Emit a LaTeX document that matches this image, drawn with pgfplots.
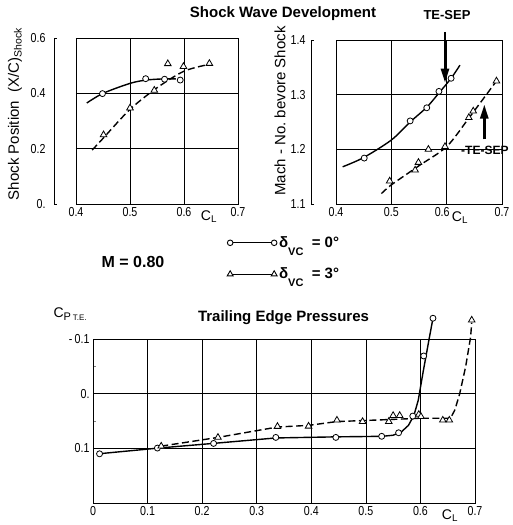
\documentclass[border=0pt]{standalone}
\usepackage{fontspec}
\setmainfont{Liberation Sans}
\newfontfamily\narrowfont[FakeStretch=0.82]{Liberation Sans}
\usepackage{pgfplots}
\pgfplotsset{compat=1.18}
\usetikzlibrary{arrows.meta}

\newcommand\fs[1]{\fontsize{#1}{#1}\selectfont}

\pgfplotsset{
  chart/.style={scale only axis, anchor=south west, grid=major,
    grid style={black, line width=0.5pt},
    axis line style={line width=0.8pt},
    major tick length=0pt, tick pos=left,
    tick label style={font=\narrowfont\fs{13}},
    clip=false},
  circ/.style={black, only marks, mark=*, mark size=3pt,
    mark options={fill=white, draw=black, line width=0.8pt}},
  tri/.style={black, only marks, mark=triangle*, mark size=3.8pt,
    mark options={fill=white, draw=black, line width=0.8pt}},
  fitsolid/.style={black, line width=1.4pt, smooth, no marks},
  fitdash/.style={black, line width=1.4pt, dash pattern=on 7pt off 3.5pt, smooth, no marks},
}

\begin{document}
\begin{tikzpicture}
\useasboundingbox (0pt,0pt) rectangle (513pt,-525pt);

% shock position
\begin{axis}[chart, at={(76pt,-204pt)}, width=162pt, height=166pt,
  xmin=0.4, xmax=0.7, ymin=0, ymax=0.6,
  xtick={0.4,0.5,0.6,0.7}, xticklabels={0.4,0.5,0.6,0.7},
  ytick={0,0.2,0.4,0.6}, yticklabels={0.,0.2,0.4,0.6},
  yticklabel style={xshift=-27pt}]
\addplot[fitsolid] coordinates {(0.42,0.365) (0.45,0.400) (0.50,0.436) (0.53,0.448) (0.56,0.452) (0.585,0.452)};
\addplot[fitdash] coordinates {(0.43,0.195) (0.45,0.237) (0.50,0.342) (0.55,0.420) (0.60,0.480) (0.647,0.505)};
\addplot[circ] coordinates {(0.449,0.399) (0.529,0.453) (0.564,0.451) (0.593,0.448)};
\addplot[tri] coordinates {(0.451,0.250) (0.500,0.347) (0.545,0.411) (0.570,0.507) (0.599,0.497) (0.647,0.508)};
\draw[line width=0.8pt] ([xshift=-19pt]rel axis cs:0,0) -- ([xshift=-22pt]rel axis cs:0,0) -- ([xshift=-22pt]rel axis cs:0,1) -- ([xshift=-19pt]rel axis cs:0,1);
\end{axis}

% mach number
\begin{axis}[chart, at={(336pt,-204pt)}, width=166pt, height=164pt,
  xmin=0.4, xmax=0.7, ymin=1.1, ymax=1.4,
  xtick={0.4,0.5,0.6,0.7}, xticklabels={0.4,0.5,0.6\kern9pt,0.7},
  ytick={1.1,1.2,1.3,1.4}, yticklabels={1.1,1.2,1.3,1.4},
  yticklabel style={xshift=-27pt}]
\addplot[fitsolid] coordinates {(0.412,1.168) (0.45,1.185) (0.50,1.217) (0.534,1.250) (0.564,1.277) (0.586,1.303) (0.608,1.330) (0.624,1.354)};
\addplot[fitdash] coordinates {(0.482,1.119) (0.50,1.135) (0.55,1.170) (0.60,1.205) (0.64,1.257) (0.69,1.325)};
\addplot[circ] coordinates {(0.451,1.184) (0.534,1.252) (0.564,1.276) (0.586,1.306) (0.608,1.330)};
\addplot[tri] coordinates {(0.497,1.142) (0.543,1.162) (0.549,1.176) (0.567,1.200) (0.597,1.205) (0.640,1.258) (0.648,1.270) (0.690,1.325)};
\draw[line width=0.8pt] ([xshift=-22pt]rel axis cs:0,0) -- ([xshift=-25pt]rel axis cs:0,0) -- ([xshift=-25pt]rel axis cs:0,1) -- ([xshift=-22pt]rel axis cs:0,1);
\draw[line width=2.6pt, -{Triangle[length=14pt, width=8pt]}] (axis cs:0.597,1.415) -- (axis cs:0.597,1.322);
\draw[line width=2.6pt, -{Triangle[length=14pt, width=8pt]}] (axis cs:0.668,1.218) -- (axis cs:0.668,1.282);
\end{axis}

% trailing edge pressures
\begin{axis}[chart, at={(93pt,-503pt)}, width=382pt, height=164pt,
  xmin=0, xmax=0.7, ymin=-0.1, ymax=0.2, y dir=reverse,
  xtick={0,0.1,0.2,0.3,0.4,0.5,0.6,0.7}, xticklabels={0,0.1,0.2,0.3,0.4,0.5,0.6,0.7},
  ytick={-0.1,0,0.1}, yticklabels={-\,0.1,0.,0.1},
  minor ytick={-0.05,0.05}, minor tick length=3pt,
  legend image code/.code={\draw[#1, line width=0.9pt, mark repeat=2, mark phase=1] plot coordinates {(0pt,0pt) (22pt,0pt) (44pt,0pt)};},
  legend style={at={(axis description cs:0.343,1.65)}, anchor=north west,
    draw=none, fill=none, row sep=15pt, font=\bfseries\fs{15},
    cells={anchor=west}}]
\addlegendimage{black, solid, mark=*, mark size=2.8pt, mark options={fill=white}}
\addlegendentry{δ\raisebox{-1ex}{\fs{11}VC}\ \ = 0°}
\addlegendimage{black, solid, mark=triangle*, mark size=3.4pt, mark options={fill=white}}
\addlegendentry{δ\raisebox{-1ex}{\fs{11}VC}\ \ = 3°}
\addplot[black, line width=1.6pt, forget plot] coordinates {(0,0) (0.7,0)};
\addplot[black, line width=1.4pt, forget plot] coordinates {(0.01,0.110) (0.12,0.0995) (0.22,0.091) (0.335,0.081) (0.445,0.079) (0.53,0.078) (0.55,0.076) (0.565,0.070) (0.578,0.058) (0.588,0.040) (0.596,0.012) (0.605,-0.040) (0.615,-0.095) (0.623,-0.138)};
\addplot[black, line width=1.4pt, dash pattern=on 7pt off 3.5pt, forget plot] coordinates {(0.125,0.096) (0.229,0.080) (0.338,0.061) (0.395,0.058) (0.447,0.051) (0.50,0.049) (0.55,0.047) (0.60,0.045) (0.655,0.045) (0.663,0.030) (0.672,0.0) (0.683,-0.050) (0.692,-0.104) (0.694,-0.130)};
\addplot[circ, forget plot] coordinates {(0.012,0.110) (0.118,0.0995) (0.221,0.091) (0.335,0.080) (0.445,0.080) (0.529,0.078) (0.560,0.0715) (0.586,0.041) (0.606,-0.069) (0.623,-0.138)};
\addplot[tri, forget plot] coordinates {(0.125,0.096) (0.229,0.080) (0.338,0.060) (0.395,0.0595) (0.447,0.0485) (0.494,0.051) (0.542,0.051) (0.550,0.040) (0.562,0.040) (0.597,0.038) (0.601,0.042) (0.641,0.0485) (0.653,0.0485) (0.694,-0.1345)};
\draw[line width=0.8pt] (rel axis cs:0,0) -- ([yshift=29pt]rel axis cs:0,0);
\end{axis}

% texts
\node[font=\bfseries\fs{15}] at (283pt,-14pt) {Shock Wave Development};
\node[font=\bfseries\fs{15}] at (283.5pt,-318pt) {Trailing Edge Pressures};
\node[font=\bfseries\fs{16}] at (133pt,-262pt) {M = 0.80};
\node[font=\bfseries\fs{13}] at (447pt,-15pt) {TE-SEP};
\node[font=\bfseries\fs{12}, anchor=west, inner sep=0pt] at (461pt,-150pt) {-TE-SEP};
\node[rotate=90, font=\fs{15}] at (15pt,-114pt) {Shock Position\ \ (X/C)\textsubscript{Shock}};
\node[rotate=90, font=\fs{15}] at (280pt,-111pt) {Mach - No.\ bevore Shock};
\node[font=\fs{14}] at (209pt,-217pt) {C\textsubscript{L}};
\node[font=\fs{14}] at (460pt,-218pt) {C\textsubscript{L}};
\node[font=\fs{14}] at (450pt,-516pt) {C\textsubscript{L}};
\node[font=\fs{14}, anchor=west] at (50pt,-314pt) {C\raisebox{-0.5ex}{\fs{11}P\,\fs{8}T.E.}};
\end{tikzpicture}
\end{document}
